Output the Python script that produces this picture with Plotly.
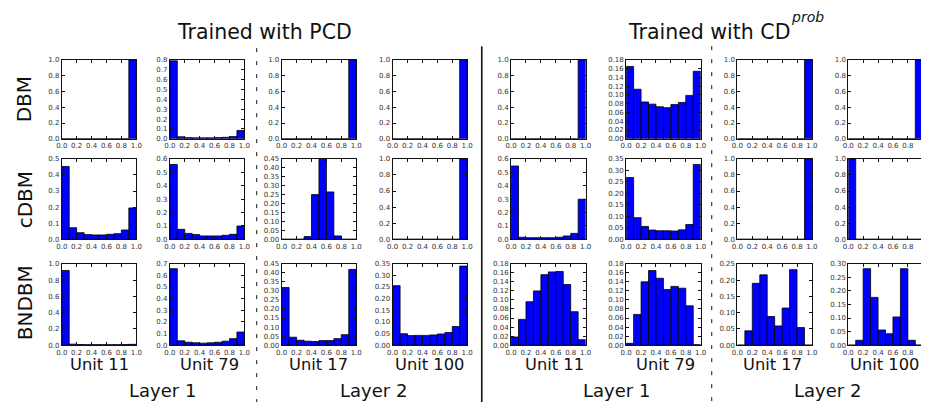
import plotly.graph_objects as go

W, H = 927, 406

# ---------------- data ----------------
bin_centers = [0.05, 0.15, 0.25, 0.35, 0.45, 0.55, 0.65, 0.75, 0.85, 0.95]
xtick_vals = [0.0, 0.2, 0.4, 0.6, 0.8, 1.0]
xtick_labels = ["0.0", "0.2", "0.4", "0.6", "0.8", "1.0"]

row_names = ["DBM", "cDBM", "BNDBM"]
unit_names = ["Unit 11", "Unit 79", "Unit 17", "Unit 100",
              "Unit 11", "Unit 79", "Unit 17", "Unit 100"]
layer_names = ["Layer 1", "Layer 2", "Layer 1", "Layer 2"]
group_titles = ["Trained with PCD", "Trained with CD"]
group_sup = "prob"

# DBM row
dbm_pcd_l1_u11 = [0, 0, 0, 0, 0, 0, 0, 0, 0, 1.0]
dbm_pcd_l1_u79 = [0.79, 0.02, 0.012, 0.01, 0.01, 0.01, 0.012, 0.015, 0.022, 0.085]
dbm_pcd_l2_u17 = [0, 0, 0, 0, 0, 0, 0, 0, 0, 1.0]
dbm_pcd_l2_u100 = [0, 0, 0, 0, 0, 0, 0, 0, 0, 1.0]
dbm_cd_l1_u11 = [0, 0, 0, 0, 0, 0, 0, 0, 0, 1.0]
dbm_cd_l1_u79 = [0.165, 0.113, 0.084, 0.079, 0.073, 0.071, 0.078, 0.083, 0.099, 0.154]
dbm_cd_l2_u17 = [0, 0, 0, 0, 0, 0, 0, 0, 0, 1.0]
dbm_cd_l2_u100 = [0, 0, 0, 0, 0, 0, 0, 0, 0, 1.0]
# cDBM row
cdbm_pcd_l1_u11 = [0.453, 0.072, 0.041, 0.029, 0.027, 0.027, 0.031, 0.035, 0.058, 0.195]
cdbm_pcd_l1_u79 = [0.558, 0.074, 0.044, 0.035, 0.025, 0.025, 0.025, 0.03, 0.037, 0.099]
cdbm_pcd_l2_u17 = [0, 0, 0, 0.015, 0.25, 0.448, 0.265, 0.019, 0, 0]
cdbm_pcd_l2_u100 = [0, 0, 0, 0, 0, 0, 0, 0, 0, 1.0]
cdbm_cd_l1_u11 = [0.547, 0.015, 0.012, 0.012, 0.012, 0.012, 0.015, 0.025, 0.044, 0.299]
cdbm_cd_l1_u79 = [0.269, 0.094, 0.056, 0.04, 0.037, 0.037, 0.036, 0.041, 0.064, 0.326]
cdbm_cd_l2_u17 = [0, 0, 0, 0, 0, 0, 0, 0, 0, 1.0]
cdbm_cd_l2_u100 = [1.0, 0, 0, 0, 0, 0, 0, 0, 0, 0]
# BNDBM row
bndbm_pcd_l1_u11 = [0.918, 0.012, 0.008, 0.006, 0.006, 0.006, 0.006, 0.006, 0.007, 0.01]
bndbm_pcd_l1_u79 = [0.658, 0.037, 0.025, 0.02, 0.017, 0.02, 0.025, 0.034, 0.056, 0.113]
bndbm_pcd_l2_u17 = [0.319, 0.044, 0.027, 0.022, 0.02, 0.025, 0.025, 0.036, 0.058, 0.419]
bndbm_pcd_l2_u100 = [0.256, 0.049, 0.041, 0.042, 0.042, 0.044, 0.048, 0.054, 0.08, 0.34]
bndbm_cd_l1_u11 = [0.018, 0.057, 0.096, 0.12, 0.156, 0.162, 0.163, 0.134, 0.074, 0.012]
bndbm_cd_l1_u79 = [0.004, 0.068, 0.14, 0.165, 0.148, 0.123, 0.13, 0.126, 0.087, 0.001]
bndbm_cd_l2_u17 = [0, 0.044, 0.19, 0.216, 0.088, 0.059, 0.114, 0.232, 0.054, 0]
bndbm_cd_l2_u100 = [0, 0.018, 0.282, 0.176, 0.056, 0.042, 0.104, 0.282, 0.018, 0]

panels = [
    [dbm_pcd_l1_u11, dbm_pcd_l1_u79, dbm_pcd_l2_u17, dbm_pcd_l2_u100,
     dbm_cd_l1_u11, dbm_cd_l1_u79, dbm_cd_l2_u17, dbm_cd_l2_u100],
    [cdbm_pcd_l1_u11, cdbm_pcd_l1_u79, cdbm_pcd_l2_u17, cdbm_pcd_l2_u100,
     cdbm_cd_l1_u11, cdbm_cd_l1_u79, cdbm_cd_l2_u17, cdbm_cd_l2_u100],
    [bndbm_pcd_l1_u11, bndbm_pcd_l1_u79, bndbm_pcd_l2_u17, bndbm_pcd_l2_u100,
     bndbm_cd_l1_u11, bndbm_cd_l1_u79, bndbm_cd_l2_u17, bndbm_cd_l2_u100],
]

y_max = [
    [1.0, 0.8, 1.0, 1.0, 1.0, 0.18, 1.0, 1.0],
    [0.5, 0.6, 0.45, 1.0, 0.6, 0.35, 1.0, 1.0],
    [1.0, 0.7, 0.45, 0.35, 0.18, 0.18, 0.25, 0.30],
]
y_step = [
    [0.2, 0.1, 0.2, 0.2, 0.2, 0.02, 0.2, 0.2],
    [0.1, 0.1, 0.05, 0.2, 0.1, 0.05, 0.2, 0.2],
    [0.2, 0.1, 0.05, 0.05, 0.02, 0.02, 0.05, 0.05],
]

# ---------------- layout geometry (pixels) ----------------
col_left = [56.5, 166, 279.3, 391.7, 511.7, 628.3, 741, 853.3]
col_w = 75.5
row_top = [57, 158, 265]
row_bot = [137.5, 240, 348]

FONT = "DejaVu Sans"
fig = go.Figure()
layout = dict(
    width=W, height=H, margin=dict(l=0, r=0, t=0, b=0, pad=0),
    paper_bgcolor="white", plot_bgcolor="white", showlegend=False,
    font=dict(family=FONT, color="#333333"),
)

k = 0
for r in range(3):
    for c in range(8):
        k += 1
        xname = "xaxis" if k == 1 else f"xaxis{k}"
        yname = "yaxis" if k == 1 else f"yaxis{k}"
        xref = "x" if k == 1 else f"x{k}"
        yref = "y" if k == 1 else f"y{k}"
        x0 = col_left[c] / W
        x1 = (col_left[c] + col_w) / W
        xr = [0, 1.0]
        last = x1 > 1.0
        if last:
            xr = [0, (W - col_left[c]) / col_w]
            x1 = 1.0
        fig.add_trace(go.Bar(
            x=bin_centers, y=panels[r][c], width=0.1,
            marker=dict(color="#0000ff", line=dict(color="#000000", width=0.8)),
            xaxis=xref, yaxis=yref, hoverinfo="skip",
        ))
        step = y_step[r][c]
        n = int(round(y_max[r][c] / step))
        yv = [round(i * step, 4) for i in range(n + 1)]
        dec = 1 if step >= 0.1 else 2
        yt = [f"{v:.{dec}f}" for v in yv]
        common = dict(showline=True, linecolor="#111111", linewidth=1,
                      ticks="inside", ticklen=3, tickwidth=0.8, tickcolor="#111111",
                      showgrid=False, zeroline=False, fixedrange=True,
                      tickfont=dict(size=7, family=FONT, color="#333333"))
        layout[xname] = dict(domain=[x0, x1], range=xr, anchor=yref,
                             tickvals=xtick_vals, ticktext=xtick_labels,
                             mirror="ticks", **common)
        layout[yname] = dict(domain=[1 - row_bot[r] / H, 1 - row_top[r] / H],
                             range=[0, y_max[r][c]], anchor=xref,
                             tickvals=yv, ticktext=yt,
                             mirror=(False if last else "ticks"), **common)

annotations = []


def ann(text, xp, yp, size, angle=0, xanchor="center"):
    annotations.append(dict(text=text, x=xp / W, y=1 - yp / H, xref="paper", yref="paper",
                            showarrow=False, xanchor=xanchor, yanchor="middle",
                            textangle=angle,
                            font=dict(size=size, family=FONT, color="#111111")))


ann(group_titles[0], 261.5, 28.5, 20.5)
ann(group_titles[1], 712.5, 28.5, 20.5)
ann(f"<i>{group_sup}</i>", 793, 13, 14, xanchor="left")
for name, yc, xc in zip(row_names, [97, 200, 305], [18.5, 19.5, 19.5]):
    ann(name, xc, yc, 20, angle=-90)
unit_x = [94.5, 206, 317, 429.5, 556, 668, 777, 890]
for name, xc in zip(unit_names, unit_x):
    ann(name, xc, 368, 16.3)
for name, xc in zip(layer_names, [158.5, 372.5, 618.5, 832.5]):
    ann(name, xc, 394, 18)
layout["annotations"] = annotations


def vline(xp, y0p, dash, width):
    return dict(type="line", xref="paper", yref="paper",
                x0=xp / W, x1=xp / W, y0=1 - y0p / H, y1=0,
                line=dict(color="#111111", width=width, dash=dash))


layout["shapes"] = [vline(254, 45, "4px,9px", 1), vline(482, 43, "solid", 1.6),
                    vline(715, 43, "4px,9px", 1)]

fig.update_layout(**layout)
post = ("var s=document.createElement('style');"
        "s.textContent='html,body{margin:0!important;padding:0!important;overflow:hidden!important;}"
        "body>div{margin:0;padding:0;line-height:0;font-size:0;}';"
        "document.head.appendChild(s);")
fig.write_html("out.html", config={"displayModeBar": False}, post_script=post)
